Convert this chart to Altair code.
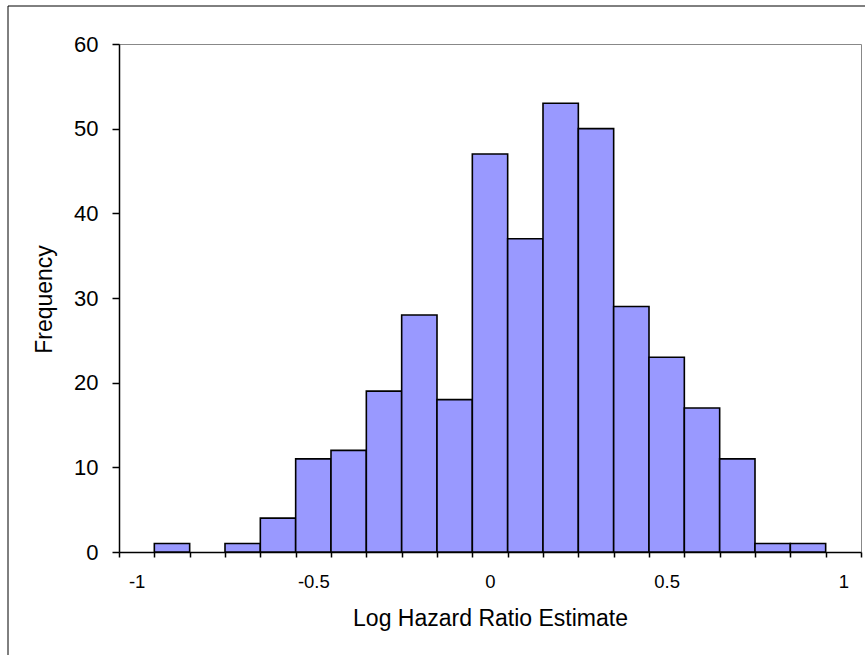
import altair as alt
import pandas as pd

bins = ["-1", "-0.9", "-0.8", "-0.7", "-0.6", "-0.5", "-0.4", "-0.3", "-0.2", "-0.1",
        "0", "0.1", "0.2", "0.3", "0.4", "0.5", "0.6", "0.7", "0.8", "0.9", "1"]
counts = [0, 1, 0, 1, 4, 11, 12, 19, 28, 18, 47, 37, 53, 50, 29, 23, 17, 11, 1, 1, 0]
shown_labels = ["-1", "-0.5", "0", "0.5", "1"]
y_ticks = [0, 10, 20, 30, 40, 50, 60]

df = pd.DataFrame({"bin": bins, "count": counts})
FONT = "Liberation Sans"

label_expr = "indexof([" + ",".join("'%s'" % s for s in shown_labels) + "], datum.label) >= 0 ? datum.label : ''"

bars = alt.Chart(df).transform_filter(alt.datum["count"] > 0).mark_bar(
    fill="#9999FF", stroke="black", strokeWidth=1.6
).encode(
    x=alt.X("bin:N", sort=bins,
            scale=alt.Scale(domain=bins, paddingInner=0, paddingOuter=0),
            axis=alt.Axis(title="Log Hazard Ratio Estimate", labelAngle=0,
                          labelExpr=label_expr, tickBand="extent",
                          tickSize=5, labelPadding=30, labelBaseline="alphabetic",
                          labelFontSize=18.5, titleFontSize=23,
                          titleFontWeight="normal", titleX=371, titleY=73,
                          titleBaseline="alphabetic", titleAlign="center")),
    y=alt.Y("count:Q",
            scale=alt.Scale(domain=[0, 60], nice=False),
            axis=alt.Axis(title="Frequency", values=y_ticks, grid=False,
                          tickSize=7, labelPadding=14, labelFontSize=22,
                          titleFontSize=23, titleFontWeight="normal",
                          titleX=-75, titleY=255, titleBaseline="middle",
                          titleAlign="center", titleAngle=270)),
)

one = pd.DataFrame({"k": [0]})
left_border = alt.Chart(one).mark_rule(color="black", strokeWidth=1).encode(
    x=alt.value(-111), y=alt.value(-38), y2=alt.value(700))
top_border = alt.Chart(one).mark_rule(color="black", strokeWidth=1).encode(
    x=alt.value(-111), x2=alt.value(900), y=alt.value(-38))

chart = alt.layer(bars, left_border, top_border).properties(
    width=742, height=508,
    autosize=alt.AutoSizeParams(type="none"),
    padding={"left": 119, "top": 44, "right": 4, "bottom": 103},
    background="white",
).configure_view(
    stroke="#888888", strokeWidth=1
).configure_axis(
    domainColor="black", tickColor="black", labelColor="black", titleColor="black",
    labelFont=FONT, titleFont=FONT, domainWidth=1.5, tickWidth=1.5
)

chart.save("out.html", embed_options={"renderer": "svg", "actions": False})
